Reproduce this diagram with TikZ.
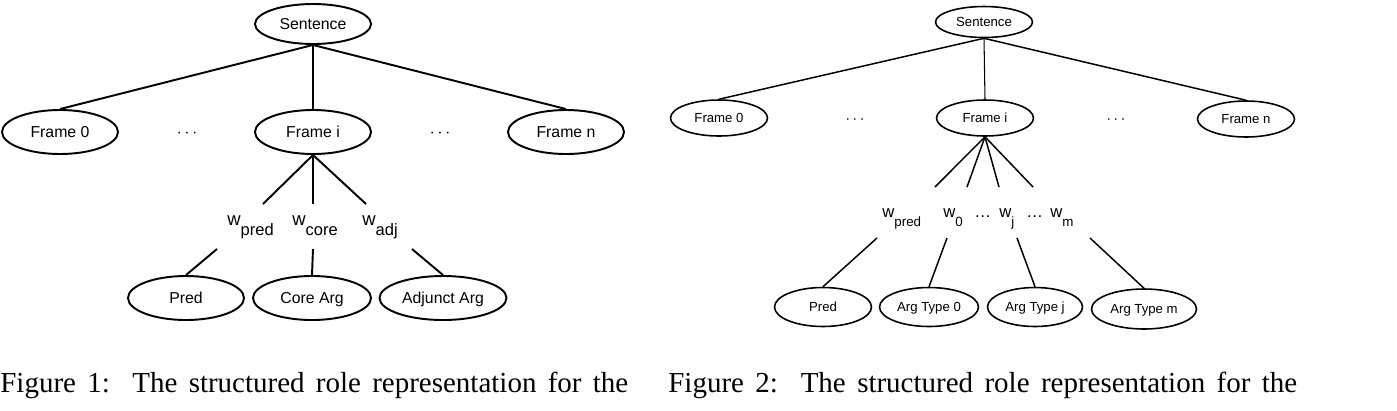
\documentclass[tikz,border=0pt]{standalone}
\usepackage{fontspec}
\setmainfont{Liberation Serif}
\setsansfont{Liberation Sans}
\usetikzlibrary{shapes.geometric, positioning}
\tikzset{%
  % Specifications for style of nodes:
        role/.style = {ellipse, draw=black, line width=1.1pt, inner sep=0pt,
                           minimum width=2.32cm, minimum height=0.88cm,
                           text height=6.5pt, text depth=0.8pt,
                           text centered, font=\sffamily\fontsize{9}{10}\selectfont},
        smallrole/.style = {role, line width=0.9pt, minimum width=1.94cm,
                           minimum height=0.76cm, text height=5.4pt, text depth=0.6pt,
                           font=\sffamily\fontsize{7.5}{9}\selectfont},
        weight/.style = {inner sep=0pt, anchor=base west,
                           font=\sffamily\fontsize{9.4}{10}\selectfont},
        smallweight/.style = {weight, font=\sffamily\fontsize{7.6}{9}\selectfont},
        ellip/.style = {inner sep=0pt},
        caption/.style = {inner sep=0pt, anchor=base west,
                           font=\fontsize{16.5}{19}\selectfont},
        line/.style = {draw, line width=1.1pt},
        thinline/.style = {draw, line width=0.6pt},
        smallline/.style = {draw, line width=0.85pt}
}
\newcommand{\wbig}[1]{{\fontsize{10.5}{11}\selectfont w}\raisebox{-6pt}{#1}}
\newcommand{\wsmall}[1]{{\fontsize{9.5}{10}\selectfont w}\raisebox{-5.5pt}{#1}}
\newcommand{\wdots}{{\fontsize{9.5}{10}\selectfont\textellipsis}}

\begin{document}
\begin{tikzpicture}[x=0.02cm, y=-0.02cm]
  \useasboundingbox (0,0) rectangle (1397,410);
  % Specification of nodes, left tree
    \node (sentA)   [role, minimum height=0.8cm] at (313,24) {Sentence};
    \node (frameA0) [role] at (60,132)  {Frame 0};
    \node (dotsA1)  [ellip] at (187,134) {$\cdots$};
    \node (frameAi) [role] at (313,132) {Frame i};
    \node (dotsA2)  [ellip] at (440,134) {$\cdots$};
    \node (frameAn) [role] at (566,132) {Frame n};
    \node (wpredA)  [weight] at (227,225) {\wbig{pred}};
    \node (wcoreA)  [weight] at (292,225) {\wbig{core}};
    \node (wadjA)   [weight] at (362,225) {\wbig{adj}};
    \node (predA)   [role] at (186,298) {Pred};
    \node (coreA)   [role, minimum width=2.36cm] at (312,298) {Core Arg};
    \node (adjA)    [role, minimum width=2.54cm] at (443,298) {Adjunct Arg};
    \coordinate (upA1) at (263,204);
    \coordinate (upA2) at (313,204);
    \coordinate (upA3) at (366,204);
    \coordinate (lowA1) at (217,249);
    \coordinate (lowA2) at (313,249);
    \coordinate (lowA3) at (412,249);

  % Specification of nodes, right tree
    \node (sentB)   [smallrole, minimum height=0.62cm] at (984,22) {Sentence};
    \node (frameB0) [smallrole, minimum height=0.72cm] at (719,118) {Frame 0};
    \node (dotsB1)  [ellip] at (855,120) {\small$\cdots$};
    \node (frameBi) [smallrole, minimum height=0.72cm] at (985,118) {Frame i};
    \node (dotsB2)  [ellip] at (1116,120) {\small$\cdots$};
    \node (frameBn) [smallrole, minimum height=0.72cm] at (1246,119) {Frame n};
    \node (wpredB)  [smallweight] at (882,217) {\wsmall{pred}};
    \node (wzeroB)  [smallweight] at (943,217) {\wsmall{0}};
    \node (dotsB3)  [smallweight] at (974,217) {\wdots};
    \node (wjB)     [smallweight] at (999,217) {\wsmall{j}};
    \node (dotsB4)  [smallweight] at (1026,217) {\wdots};
    \node (wmB)     [smallweight] at (1050,217) {\wsmall{m}};
    \node (predB)   [smallrole, minimum height=0.78cm] at (823,307) {Pred};
    \node (typeB0)  [smallrole, minimum height=0.78cm, minimum width=1.98cm] at (929,307) {Arg Type 0};
    \node (typeBj)  [smallrole, minimum height=0.78cm, minimum width=1.9cm] at (1035,307) {Arg Type j};
    \node (typeBm)  [smallrole, minimum height=0.8cm, minimum width=2.1cm] at (1144,309) {Arg Type m};
    \coordinate (upB1) at (935,187);
    \coordinate (upB2) at (967,187);
    \coordinate (upB3) at (999,187);
    \coordinate (upB4) at (1033,187);
    \coordinate (lowB1) at (877,238);
    \coordinate (lowB2) at (947,238);
    \coordinate (lowB3) at (1017,238);
    \coordinate (lowB4) at (1090,238);

  % captions
    \node (capA) [caption] at (0,392)
      {\makebox[12.56cm][s]{Figure 1:\ \ The structured role representation for the}};
    \node (capB) [caption] at (668,392)
      {\makebox[12.58cm][s]{Figure 2:\ \ The structured role representation for the}};

  % Specification of lines between nodes specified above
  \draw[line]     (sentA.south) -- (frameA0.north);
  \draw[thinline] (sentA.south) -- (frameAi.north);
  \draw[line]     (sentA.south) -- (frameAn.north);
  \draw[line]     (frameAi.south) -- (upA1);
  \draw[line]     (frameAi.south) -- (upA2);
  \draw[line]     (frameAi.south) -- (upA3);
  \draw[line]     (lowA1) -- (predA.north);
  \draw[line]     (lowA2) -- (coreA.north);
  \draw[line]     (lowA3) -- (adjA.north);

  \draw[smallline] (sentB.south) -- (frameB0.north);
  \draw[thinline]  (sentB.south) -- (frameBi.north);
  \draw[smallline] (sentB.south) -- (frameBn.north);
  \draw[smallline] (frameBi.south) -- (upB1);
  \draw[smallline] (frameBi.south) -- (upB2);
  \draw[smallline] (frameBi.south) -- (upB3);
  \draw[smallline] (frameBi.south) -- (upB4);
  \draw[smallline] (lowB1) -- (predB.north);
  \draw[smallline] (lowB2) -- (typeB0.north);
  \draw[smallline] (lowB3) -- (typeBj.north);
  \draw[smallline] (lowB4) -- (typeBm.north);
\end{tikzpicture}
\end{document}
